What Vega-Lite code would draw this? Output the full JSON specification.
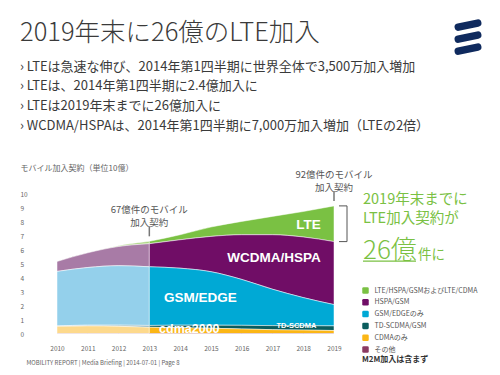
{
  "$schema": "https://vega.github.io/schema/vega-lite/v6.json",
  "width": 277,
  "height": 140,
  "autosize": {"type": "none"},
  "padding": {"left": 57, "top": 194, "right": 166, "bottom": 41},
  "background": "white",
  "config": {"font": "Noto Sans CJK JP", "view": {"stroke": null}, "axis": {"labelOverlap": false}},
  "title": {
    "text": "2019年末に26億のLTE加入",
    "subtitle": [
      "›  LTEは急速な伸び、2014年第1四半期に世界全体で3,500万加入増加",
      "›  LTEは、2014年第1四半期に2.4億加入に",
      "›  LTEは2019年末までに26億加入に",
      "›  WCDMA/HSPAは、2014年第1四半期に7,000万加入増加（LTEの2倍）"
    ],
    "anchor": "start",
    "frame": "group",
    "dx": -37,
    "offset": -125,
    "fontSize": 25.5,
    "fontWeight": 300,
    "color": "#3a3a3a",
    "subtitleFontSize": 13,
    "subtitleColor": "#3a3a3a",
    "subtitleLineHeight": 19.8,
    "subtitlePadding": 14
  },
  "data": {
    "values": [
      {"year": 2010, "tech": "LTE/HSPA/GSMおよびLTE/CDMA", "v": 0.0},
      {"year": 2010, "tech": "HSPA/GSM", "v": 0.71},
      {"year": 2010, "tech": "GSM/EDGEのみ", "v": 3.90},
      {"year": 2010, "tech": "TD-SCDMA/GSM", "v": 0.02},
      {"year": 2010, "tech": "CDMAのみ", "v": 0.52},
      {"year": 2010, "tech": "その他", "v": 0.03},
      {"year": 2011, "tech": "LTE/HSPA/GSMおよびLTE/CDMA", "v": 0.01},
      {"year": 2011, "tech": "HSPA/GSM", "v": 1.05},
      {"year": 2011, "tech": "GSM/EDGEのみ", "v": 4.12},
      {"year": 2011, "tech": "TD-SCDMA/GSM", "v": 0.05},
      {"year": 2011, "tech": "CDMAのみ", "v": 0.55},
      {"year": 2011, "tech": "その他", "v": 0.03},
      {"year": 2012, "tech": "LTE/HSPA/GSMおよびLTE/CDMA", "v": 0.06},
      {"year": 2012, "tech": "HSPA/GSM", "v": 1.37},
      {"year": 2012, "tech": "GSM/EDGEのみ", "v": 4.25},
      {"year": 2012, "tech": "TD-SCDMA/GSM", "v": 0.08},
      {"year": 2012, "tech": "CDMAのみ", "v": 0.52},
      {"year": 2012, "tech": "その他", "v": 0.03},
      {"year": 2013, "tech": "LTE/HSPA/GSMおよびLTE/CDMA", "v": 0.17},
      {"year": 2013, "tech": "HSPA/GSM", "v": 1.65},
      {"year": 2013, "tech": "GSM/EDGEのみ", "v": 4.19},
      {"year": 2013, "tech": "TD-SCDMA/GSM", "v": 0.13},
      {"year": 2013, "tech": "CDMAのみ", "v": 0.45},
      {"year": 2013, "tech": "その他", "v": 0.03},
      {"year": 2014, "tech": "LTE/HSPA/GSMおよびLTE/CDMA", "v": 0.36},
      {"year": 2014, "tech": "HSPA/GSM", "v": 2.03},
      {"year": 2014, "tech": "GSM/EDGEのみ", "v": 4.07},
      {"year": 2014, "tech": "TD-SCDMA/GSM", "v": 0.18},
      {"year": 2014, "tech": "CDMAのみ", "v": 0.42},
      {"year": 2014, "tech": "その他", "v": 0.03},
      {"year": 2015, "tech": "LTE/HSPA/GSMおよびLTE/CDMA", "v": 0.67},
      {"year": 2015, "tech": "HSPA/GSM", "v": 2.52},
      {"year": 2015, "tech": "GSM/EDGEのみ", "v": 3.82},
      {"year": 2015, "tech": "TD-SCDMA/GSM", "v": 0.22},
      {"year": 2015, "tech": "CDMAのみ", "v": 0.38},
      {"year": 2015, "tech": "その他", "v": 0.03},
      {"year": 2016, "tech": "LTE/HSPA/GSMおよびLTE/CDMA", "v": 0.95},
      {"year": 2016, "tech": "HSPA/GSM", "v": 3.19},
      {"year": 2016, "tech": "GSM/EDGEのみ", "v": 3.28},
      {"year": 2016, "tech": "TD-SCDMA/GSM", "v": 0.26},
      {"year": 2016, "tech": "CDMAのみ", "v": 0.33},
      {"year": 2016, "tech": "その他", "v": 0.03},
      {"year": 2017, "tech": "LTE/HSPA/GSMおよびLTE/CDMA", "v": 1.31},
      {"year": 2017, "tech": "HSPA/GSM", "v": 3.89},
      {"year": 2017, "tech": "GSM/EDGEのみ", "v": 2.60},
      {"year": 2017, "tech": "TD-SCDMA/GSM", "v": 0.29},
      {"year": 2017, "tech": "CDMAのみ", "v": 0.28},
      {"year": 2017, "tech": "その他", "v": 0.03},
      {"year": 2018, "tech": "LTE/HSPA/GSMおよびLTE/CDMA", "v": 1.82},
      {"year": 2018, "tech": "HSPA/GSM", "v": 4.33},
      {"year": 2018, "tech": "GSM/EDGEのみ", "v": 2.01},
      {"year": 2018, "tech": "TD-SCDMA/GSM", "v": 0.31},
      {"year": 2018, "tech": "CDMAのみ", "v": 0.25},
      {"year": 2018, "tech": "その他", "v": 0.03},
      {"year": 2019, "tech": "LTE/HSPA/GSMおよびLTE/CDMA", "v": 2.55},
      {"year": 2019, "tech": "HSPA/GSM", "v": 4.50},
      {"year": 2019, "tech": "GSM/EDGEのみ", "v": 1.52},
      {"year": 2019, "tech": "TD-SCDMA/GSM", "v": 0.33},
      {"year": 2019, "tech": "CDMAのみ", "v": 0.22},
      {"year": 2019, "tech": "その他", "v": 0.03}
    ]
  },
  "datasets": {
    "cats": [
      {"tech": "その他", "rank": 1},
      {"tech": "CDMAのみ", "rank": 2},
      {"tech": "TD-SCDMA/GSM", "rank": 3},
      {"tech": "GSM/EDGEのみ", "rank": 4},
      {"tech": "HSPA/GSM", "rank": 5},
      {"tech": "LTE/HSPA/GSMおよびLTE/CDMA", "rank": 6}
    ]
  },
  "encoding": {
    "x": {
      "field": "year", "type": "quantitative",
      "scale": {"domain": [2010, 2019], "nice": false, "zero": false},
      "axis": {
        "values": [2010, 2011, 2012, 2013, 2014, 2015, 2016, 2017, 2018, 2019],
        "format": "d", "grid": false, "domain": false, "ticks": false, "labelOverlap": false,
        "labelFontSize": 6.5, "labelColor": "#666", "labelPadding": 11, "labelFlush": false,
        "title": "MOBILITY REPORT  |  Media Briefing  |  2014-07-01  |  Page 8",
        "titleFontSize": 6, "titleFontWeight": "normal", "titleColor": "#666",
        "titleAnchor": "start", "titleAlign": "left", "titleBaseline": "middle",
        "titleX": -31, "titleY": 28
      }
    },
    "y": {
      "field": "v", "type": "quantitative",
      "scale": {"domain": [0, 10], "nice": false},
      "axis": {
        "values": [0, 1, 2, 3, 4, 5, 6, 7, 8, 9, 10],
        "grid": false, "domain": false, "ticks": false, "labelOverlap": false,
        "labelAlign": "left", "labelPadding": 37, "labelFontSize": 6.5, "labelColor": "#666",
        "title": "モバイル加入契約（単位10億）",
        "titleAngle": 0, "titleAlign": "left", "titleBaseline": "middle",
        "titleX": -37, "titleY": -26, "titleFontSize": 8, "titleFontWeight": "normal", "titleColor": "#666"
      }
    }
  },
  "layer": [
    {
      "transform": [
        {"filter": "datum.year <= 2013"},
        {"lookup": "tech", "from": {"data": {"name": "cats"}, "key": "tech", "fields": ["rank"]}}
      ],
      "mark": {"type": "area", "interpolate": "monotone", "stroke": "white", "strokeWidth": 0.5},
      "encoding": {
        "order": {"field": "rank", "type": "quantitative"},
        "color": {
          "field": "tech", "type": "nominal",
          "scale": {
            "domain": ["LTE/HSPA/GSMおよびLTE/CDMA", "HSPA/GSM", "GSM/EDGEのみ", "TD-SCDMA/GSM", "CDMAのみ", "その他"],
            "range": ["#a9d47f", "#a87ba6", "#94d0eb", "#7fa9b4", "#fdd98c", "#b58aa0"]
          },
          "legend": null
        }
      }
    },
    {
      "transform": [
        {"filter": "datum.year >= 2013"},
        {"lookup": "tech", "from": {"data": {"name": "cats"}, "key": "tech", "fields": ["rank"]}}
      ],
      "mark": {"type": "area", "interpolate": "monotone", "stroke": "white", "strokeWidth": 0.5},
      "encoding": {
        "order": {"field": "rank", "type": "quantitative"},
        "color": {
          "field": "tech", "type": "nominal",
          "scale": {
            "domain": ["LTE/HSPA/GSMおよびLTE/CDMA", "HSPA/GSM", "GSM/EDGEのみ", "TD-SCDMA/GSM", "CDMAのみ", "その他"],
            "range": ["#7ac143", "#700d66", "#00a9d5", "#0b5d5e", "#fbb615", "#8b3a62"]
          },
          "legend": {
            "orient": "none", "legendX": 305, "legendY": 93, "padding": 0,
            "title": "M2M加入は含まず", "titleOrient": "bottom", "titleAnchor": "start",
            "titleFontSize": 8, "titleFontWeight": "bold", "titleColor": "#333", "titlePadding": 3,
            "labelFontSize": 7, "labelColor": "#555", "labelOffset": 5.5,
            "symbolType": "M-0.6,-1L0.6,-1Q1,-1,1,-0.6L1,0.6Q1,1,0.6,1L-0.6,1Q-1,1,-1,0.6L-1,-0.6Q-1,-1,-0.6,-1Z",
            "symbolSize": 42, "symbolStrokeWidth": 0, "symbolOpacity": 1, "rowPadding": 3.8
          }
        }
      }
    },
    {
      "data": {"values": [
        {"year": 2018.17, "v": 7.76, "t": "LTE"},
        {"year": 2017.05, "v": 5.45, "t": "WCDMA/HSPA"},
        {"year": 2014.66, "v": 2.56, "t": "GSM/EDGE"}
      ]},
      "mark": {"type": "text", "font": "Liberation Sans", "fontWeight": "bold", "fontSize": 13.5, "color": "white", "baseline": "middle", "align": "center"},
      "encoding": {"text": {"field": "t"}}
    },
    {
      "data": {"values": [{"year": 2014.3, "v": 0.36, "t": "cdma2000"}]},
      "mark": {"type": "text", "font": "Liberation Sans", "fontWeight": "bold", "fontSize": 12.5, "color": "white", "baseline": "middle", "align": "center"},
      "encoding": {"text": {"field": "t"}}
    },
    {
      "data": {"values": [{"year": 2017.78, "v": 0.56, "t": "TD-SCDMA"}]},
      "mark": {"type": "text", "font": "Liberation Sans", "fontWeight": "bold", "fontSize": 7.5, "color": "white", "baseline": "middle", "align": "center"},
      "encoding": {"text": {"field": "t"}}
    },
    {
      "data": {"values": [
        {"year": 2013, "v": 6.62, "t": ["67億件のモバイル", "加入契約"]},
        {"year": 2019, "v": 9.15, "t": ["92億件のモバイル", "加入契約"]}
      ]},
      "layer": [
        {
          "mark": {"type": "text", "fontSize": 9.5, "color": "#555", "align": "center", "baseline": "bottom", "lineHeight": 13, "dy": -26},
          "encoding": {"text": {"field": "t"}}
        },
        {
          "mark": {"type": "rule", "color": "#777", "strokeWidth": 1.5, "yOffset": -5, "y2Offset": -15},
          "encoding": {"y2": {"field": "v"}}
        }
      ]
    },
    {
      "data": {"values": [{"year": 2019, "v": 6.6, "top": 9.15}]},
      "layer": [
        {
          "mark": {"type": "rule", "color": "#555", "strokeWidth": 1, "xOffset": 13},
          "encoding": {"y2": {"field": "top"}}
        },
        {
          "mark": {"type": "rule", "color": "#555", "strokeWidth": 1, "xOffset": 5, "x2Offset": 13, "yOffset": 0},
          "encoding": {"x2": {"field": "year"}}
        },
        {
          "mark": {"type": "rule", "color": "#555", "strokeWidth": 1, "xOffset": 5, "x2Offset": 13, "yOffset": -35.7},
          "encoding": {"x2": {"field": "year"}}
        },
        {
          "mark": {"type": "text", "fontSize": 14.5, "color": "#7ac143", "align": "left", "baseline": "top", "lineHeight": 19, "dx": 29, "dy": -48.7},
          "encoding": {"text": {"value": ["2019年末までに", "LTE加入契約が"]}}
        },
        {
          "mark": {"type": "text", "fontSize": 26, "fontWeight": 300, "color": "#7ac143", "align": "left", "baseline": "alphabetic", "dx": 29, "dy": 17},
          "encoding": {"text": {"value": "26億"}}
        },
        {
          "mark": {"type": "text", "fontSize": 13.5, "color": "#7ac143", "align": "left", "baseline": "alphabetic", "dx": 84, "dy": 17},
          "encoding": {"text": {"value": "件に"}}
        },
        {
          "mark": {"type": "rule", "color": "#7ac143", "strokeWidth": 1.2, "xOffset": 29, "x2Offset": 82, "yOffset": 19.5},
          "encoding": {"x2": {"field": "year"}}
        },
        {
          "mark": {"type": "point", "filled": false, "stroke": "#0f2a5e", "strokeWidth": 7.5, "strokeCap": "round", "opacity": 1, "size": 729, "xOffset": 134, "yOffset": -204.5,
                   "shape": "M-0.72,-0.74L0.72,-1.04M-0.72,0.15L0.72,-0.15M-0.72,1.04L0.72,0.74"}
        }
      ]
    }
  ],
  "resolve": {"scale": {"color": "independent"}}
}
